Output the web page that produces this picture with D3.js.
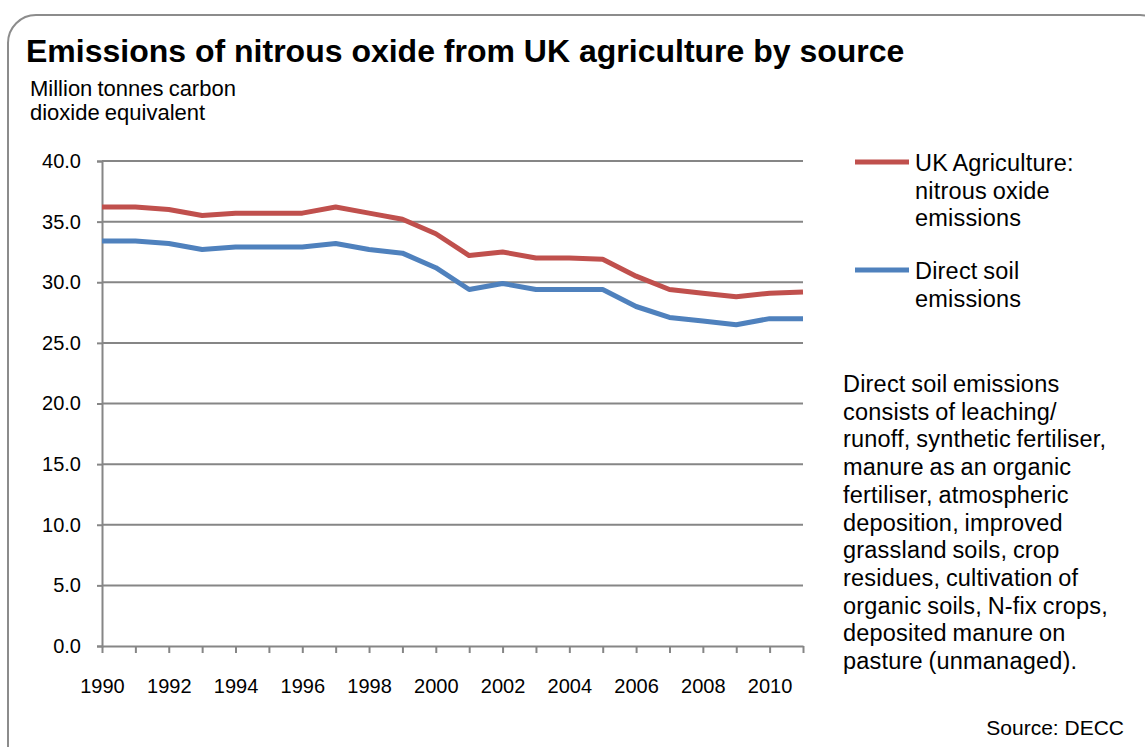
<!DOCTYPE html>
<html>
<head>
<meta charset="utf-8">
<script src="https://cdn.jsdelivr.net/npm/d3@7"></script>
<style>
  html, body { margin: 0; padding: 0; background: #fff; }
  svg { display: block; }
  text { font-family: "Liberation Sans", Arial, sans-serif; fill: #000; }
</style>
</head>
<body>
<svg id="chart" width="1145" height="747"></svg>
<script>
const years = [1990,1991,1992,1993,1994,1995,1996,1997,1998,1999,2000,2001,2002,2003,2004,2005,2006,2007,2008,2009,2010,2011];
const ukAgriculture = [36.2,36.2,36.0,35.5,35.7,35.7,35.7,36.2,35.7,35.2,34.0,32.2,32.5,32.0,32.0,31.9,30.5,29.4,29.1,28.8,29.1,29.2];
const directSoil   = [33.4,33.4,33.2,32.7,32.9,32.9,32.9,33.2,32.7,32.4,31.2,29.4,29.9,29.4,29.4,29.4,28.0,27.1,26.8,26.5,27.0,27.0];
const yTicks = [0,5,10,15,20,25,30,35,40];
const xLabelYears = [1990,1992,1994,1996,1998,2000,2002,2004,2006,2008,2010];
const seriesNames = [["UK Agriculture:","nitrous oxide","emissions"],["Direct soil","emissions"]];
const seriesColors = ["#C0504D","#4F81BD"];
const noteLines = ["Direct soil emissions","consists of leaching/","runoff, synthetic fertiliser,","manure as an organic","fertiliser, atmospheric","deposition, improved","grassland soils, crop","residues, cultivation of","organic soils, N-fix crops,","deposited manure on","pasture (unmanaged)."];

const svg = d3.select("#chart");

// frame
svg.append("rect").attr("x",8).attr("y",15).attr("width",1160).attr("height",760)
  .attr("rx",28).attr("ry",28).attr("fill","none").attr("stroke","#8c8c8c").attr("stroke-width",2);

// title
svg.append("text").attr("x",26).attr("y",62).attr("font-size",32).attr("font-weight","bold")
  .text("Emissions of nitrous oxide from UK agriculture by source");
svg.append("text").attr("x",30).attr("y",96).attr("font-size",22).attr("word-spacing",-1).text("Million tonnes carbon");
svg.append("text").attr("x",30).attr("y",120).attr("font-size",22).attr("word-spacing",-1).text("dioxide equivalent");

const pLeft = 102, pRight = 803, pTop = 161, pBottom = 646;
const x = d3.scalePoint().domain(years).range([pLeft,pRight]);
const y = d3.scaleLinear().domain([0,40]).range([pBottom,pTop]);

// gridlines
svg.append("g").selectAll("line").data(yTicks.filter(d=>d>0)).join("line")
  .attr("x1",pLeft).attr("x2",pRight).attr("y1",d=>y(d)).attr("y2",d=>y(d))
  .attr("stroke","#868686").attr("stroke-width",2);

// y axis
const yAxis = svg.append("g").attr("transform",`translate(${pLeft},0)`)
  .call(d3.axisLeft(y).tickValues(yTicks).tickFormat(d3.format(".1f")).tickSize(5).tickPadding(16));
yAxis.select(".domain").attr("stroke","#868686").attr("stroke-width",2);
yAxis.selectAll(".tick line").attr("stroke","#868686").attr("stroke-width",2);
yAxis.selectAll(".tick text").attr("font-size",20).attr("font-family","Liberation Sans, Arial, sans-serif").attr("fill","#000");

// x axis
const xAxis = svg.append("g").attr("transform",`translate(0,${pBottom})`)
  .call(d3.axisBottom(x).tickValues(years).tickFormat(d => xLabelYears.includes(d) ? d : "").tickSize(7).tickPadding(26).tickSizeOuter(0));
xAxis.select(".domain").attr("stroke","#868686").attr("stroke-width",2);
xAxis.selectAll(".tick line").attr("stroke","#868686").attr("stroke-width",2);
xAxis.selectAll(".tick text").attr("font-size",20).attr("font-family","Liberation Sans, Arial, sans-serif").attr("fill","#000");

// lines
const line = d3.line().x((d,i)=>x(years[i])).y(d=>y(d));
[ukAgriculture, directSoil].forEach((s,k)=>{
  svg.append("path").datum(s).attr("d",line).attr("fill","none")
    .attr("stroke",seriesColors[k]).attr("stroke-width",5).attr("stroke-linejoin","round");
});

// legend
const legendY = [162, 270];
seriesNames.forEach((lines,k)=>{
  svg.append("line").attr("x1",855).attr("x2",909).attr("y1",legendY[k]).attr("y2",legendY[k])
    .attr("stroke",seriesColors[k]).attr("stroke-width",5);
  lines.forEach((t,j)=>{
    svg.append("text").attr("x",915).attr("y",legendY[k]+9+j*27.5).attr("font-size",23.5)
      .attr("letter-spacing",0.2).attr("word-spacing",-1).text(t);
  });
});

// note
noteLines.forEach((t,j)=>{
  svg.append("text").attr("x",843).attr("y",392+j*27.7).attr("font-size",23.5)
    .attr("letter-spacing",0.2).attr("word-spacing",-1).text(t);
});
svg.append("text").attr("x",1124).attr("y",735).attr("font-size",21).attr("text-anchor","end").text("Source: DECC");
</script>
</body>
</html>
